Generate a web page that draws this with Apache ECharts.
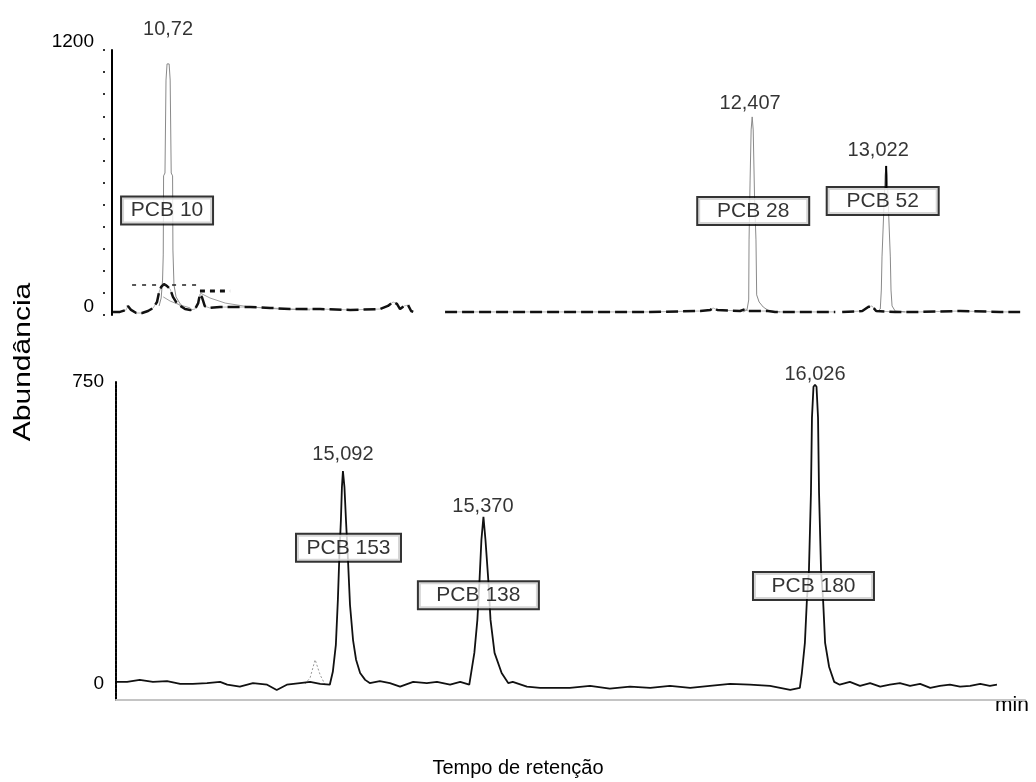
<!DOCTYPE html>
<html><head><meta charset="utf-8">
<script src="https://cdn.jsdelivr.net/npm/echarts@6/dist/echarts.min.js"></script>
<style>html,body{margin:0;padding:0;background:#fff}#c{width:1036px;height:782px}</style>
</head><body><div id="c"></div>
<script>
// ---------- DATA (x: tempo de retenção [min], y: abundância) ----------
// Top window (PCB 10, 28, 52)
const topBaseA = [[10.561,14],[10.581,14],[10.599,23],[10.604,41],[10.613,23],[10.628,9],[10.645,9],[10.662,18],[10.677,32],[10.688,59],[10.694,104],[10.700,127],[10.708,140],[10.717,131],[10.726,118],[10.734,82],[10.743,59],[10.755,41],[10.769,27],[10.784,23],[10.798,27],[10.807,54],[10.812,95],[10.818,80],[10.826,40],[10.840,32],[10.870,36],[10.905,36],[10.957,36],[11.015,32],[11.072,27],[11.159,27],[11.246,23],[11.332,27],[11.355,41],[11.370,59],[11.381,50],[11.390,27],[11.402,41],[11.413,45],[11.422,18],[11.428,14]];
const topBaseB = [[11.520,14],[11.679,14],[11.852,14],[11.968,14],[12.112,14],[12.257,18],[12.286,23],[12.294,32],[12.306,23],[12.372,18],[12.387,27],[12.395,18],[12.407,18],[12.430,18],[12.453,18],[12.473,14],[12.546,14],[12.632,14],[12.647,14]];
const topBaseC = [[12.667,14],[12.725,18],[12.742,36],[12.753,41],[12.765,18],[12.820,14],[12.892,14],[13.008,18],[13.123,14],[13.181,14]];
const peak10 = [[10.694,41],[10.700,77],[10.704,158],[10.706,272],[10.707,630],[10.711,643],[10.714,1064],[10.717,1137],[10.720,1146],[10.723,1137],[10.726,1064],[10.729,643],[10.733,630],[10.734,294],[10.737,136],[10.743,82],[10.755,50],[10.772,27]];
const peak28 = [[12.381,14],[12.392,23],[12.397,68],[12.398,340],[12.401,611],[12.404,838],[12.407,897],[12.410,838],[12.414,521],[12.418,340],[12.420,91],[12.427,59],[12.439,36],[12.456,18],[12.488,14]];
const peak52 = [[12.768,14],[12.777,27],[12.780,113],[12.782,263],[12.785,385],[12.791,634],[12.794,675],[12.797,634],[12.803,385],[12.806,263],[12.808,113],[12.811,41],[12.820,18],[12.849,14]];
const peak52Apex = [[12.794,675],[12.794,575]];
const topTailA = [[10.706,82],[10.726,63],[10.755,45],[10.784,32]];
const topTailB = [[10.812,100],[10.841,77],[10.885,54],[10.957,36],[11.044,27],[11.130,23]];
const topLevelA = [[10.616,136],[10.804,136]];
const topLevelB = [[10.812,109],[10.899,109]];
const topRtLabels = [[10.720,1295,'10,72'],[12.401,960,'12,407'],[12.771,747,'13,022']];
const topBoxes = [[10.717,473,'PCB 10'],[12.410,471,'PCB 28'],[12.784,516,'PCB 52']];
const topTicks = ['0','1200'];

// Bottom window (PCB 153, 138, 180)
const bottomTrace = [[14.645,5],[14.665,5],[14.690,10],[14.716,5],[14.744,7],[14.770,0],[14.795,0],[14.823,2],[14.849,5],[14.863,-2],[14.888,-7],[14.914,2],[14.942,-2],[14.961,-15],[14.981,-2],[15.007,2],[15.027,5],[15.047,0],[15.066,-2],
[15.072,30],[15.078,97],[15.082,209],[15.085,320],[15.088,407],[15.090,489],[15.092,529],[15.095,489],[15.098,407],[15.102,308],[15.106,196],[15.112,109],[15.118,60],[15.126,27],[15.136,10],[15.145,2],
[15.165,7],[15.185,2],[15.205,-7],[15.231,5],[15.258,2],[15.278,5],[15.304,-2],[15.324,5],[15.342,-2],
[15.352,77],[15.358,159],[15.362,251],[15.366,358],[15.370,415],[15.374,358],[15.380,251],[15.384,159],[15.392,77],[15.406,27],[15.419,2],
[15.428,5],[15.456,-7],[15.482,-10],[15.515,-10],[15.541,-10],[15.581,-5],[15.620,-12],[15.660,-7],[15.700,-10],[15.739,-5],[15.779,-10],[15.818,-5],[15.858,0],[15.897,-2],[15.937,-5],[15.977,-15],[15.996,-10],
[16.000,27],[16.006,102],[16.010,209],[16.014,281],[16.018,475],[16.020,661],[16.023,738],[16.026,743],[16.029,738],[16.032,661],[16.034,475],[16.038,281],[16.042,209],[16.046,102],[16.054,42],[16.064,5],[16.075,-2],
[16.095,5],[16.115,-5],[16.135,2],[16.155,-7],[16.174,-2],[16.194,2],[16.214,-5],[16.234,0],[16.254,-10],[16.273,-5],[16.293,-2],[16.313,-7],[16.333,-5],[16.353,0],[16.372,-5],[16.386,-2]];
const bottomSmallPeak = [[15.017,0],[15.027,15],[15.037,60],[15.047,22],[15.056,0]];
const bottomRtLabels = [[15.092,569,'15,092'],[15.369,440,'15,370'],[16.026,768,'16,026']];
const bottomBoxes = [[15.103,338,'PCB 153'],[15.360,220,'PCB 138'],[16.023,243,'PCB 180']];
const bottomTicks = ['0','750'];

// ---------- CHART ----------
const FONT = '"Liberation Sans", Arial, sans-serif';
const boxWidth = {'PCB 10':92,'PCB 28':112,'PCB 52':112,'PCB 153':105,'PCB 138':121,'PCB 180':121};

function lineS(data, xi, color, width, type, z){
  return {type:'line', xAxisIndex:xi, yAxisIndex:xi===0?0:2, data:data, showSymbol:false, symbol:'none',
    lineStyle:{color:color, width:width, type:type||'solid'}, z:z||2, silent:true, animation:false};
}
function textS(rows, xi){
  return {type:'scatter', xAxisIndex:xi, yAxisIndex:xi===0?0:2, symbolSize:0, clip:false, z:10, silent:true, animation:false,
    data: rows.map(r=>({name:r[2], value:[r[0],r[1]]})),
    label:{show:true, position:'inside', formatter:'{b}', color:'#000', fontSize:20, fontFamily:FONT}};
}
function boxS(rows, xi){
  return {type:'scatter', xAxisIndex:xi, yAxisIndex:xi===0?0:2, symbolSize:0, clip:false, z:10, silent:true, animation:false,
    data: rows.map(r=>({name:r[2], value:[r[0],r[1]], label:{width:boxWidth[r[2]]-6}})),
    label:{show:true, position:'inside', formatter:'{b}', color:'#000', fontSize:21, fontFamily:FONT,
      backgroundColor:'#fff', borderColor:'#000', borderWidth:2, padding:[3,2,1,2], lineHeight:22, align:'center'}};
}

const chart = echarts.init(document.getElementById('c'), null, {renderer:'canvas'});
chart.setOption({
  backgroundColor:'#fff',
  animation:false,
  grid:[
    {left:112, right:11, top:50, bottom:467},
    {left:116, right:11, top:382, bottom:82}
  ],
  xAxis:[
    {type:'value', gridIndex:0, min:10.558, max:13.195, show:false},
    {type:'value', gridIndex:1, min:14.643, max:16.4415,
      axisLine:{show:true, onZero:false, lineStyle:{color:'#c4c4c4', width:2}},
      axisTick:{show:false}, axisLabel:{show:false}, splitLine:{show:false}}
  ],
  yAxis:[
    {type:'value', gridIndex:0, min:0, max:1200, interval:100, position:'left',
      axisLine:{show:true, onZero:false, lineStyle:{color:'#000', width:2}},
      axisTick:{show:false}, splitLine:{show:false},
      axisLabel:{show:true, margin:18, color:'#000', fontSize:19, fontFamily:FONT, verticalAlign:'bottom', lineHeight:16,
        formatter:v=> topTicks.indexOf(String(v))>=0 ? String(v) : ''}},
    {type:'value', gridIndex:0, min:0, max:1200, interval:100, offset:7, position:'left',
      axisLine:{show:false}, splitLine:{show:false}, axisLabel:{show:false},
      axisTick:{show:true, length:2, lineStyle:{color:'#333', width:2}}},
    {type:'value', gridIndex:1, min:-40, max:750, position:'left',
      axisLine:{show:true, onZero:false, lineStyle:{color:'#000', width:2, type:[3,1]}},
      axisTick:{show:false}, splitLine:{show:false},
      axisLabel:{show:true, margin:12, color:'#000', fontSize:19, fontFamily:FONT,
        customValues:bottomTicks.map(Number)}}
  ],
  graphic:[
    {type:'text', x:23, y:362, rotation:Math.PI/2, scaleX:1.25,
      style:{text:'Abundância', font:'24px '+FONT, fill:'#000', align:'center', verticalAlign:'middle', textAlign:'center', textVerticalAlign:'middle'}},
    {type:'text', x:518, y:768,
      style:{text:'Tempo de retenção', font:'20px '+FONT, fill:'#000', align:'center', verticalAlign:'middle', textAlign:'center', textVerticalAlign:'middle'}},
    {type:'text', x:1012, y:705,
      style:{text:'min', font:'21px '+FONT, fill:'#000', align:'center', verticalAlign:'middle', textAlign:'center', textVerticalAlign:'middle'}}
  ],
  series:[
    lineS(topBaseA,0,'#b5b5b5',1),
    lineS(topBaseB,0,'#b5b5b5',1),
    lineS(topBaseC,0,'#b5b5b5',1),
    lineS(topTailA,0,'#a0a0a0',1),
    lineS(topTailB,0,'#a0a0a0',1),
    lineS(peak10,0,'#8a8a8a',1,'solid',3),
    lineS(peak28,0,'#8a8a8a',1,'solid',3),
    lineS(peak52,0,'#8a8a8a',1,'solid',3),
    lineS(peak52Apex,0,'#000',2,'solid',3),
    lineS(topBaseA,0,'#111',2.5,[12,5],4),
    lineS(topBaseB,0,'#111',2.5,[12,5],4),
    lineS(topBaseC,0,'#111',2.5,[12,5],4),
    lineS(topLevelA,0,'#222',1.5,[4,6],4),
    lineS(topLevelB,0,'#111',3,[5,5],4),
    lineS(bottomSmallPeak,1,'#999',1,[2,2],3),
    lineS(bottomTrace,1,'#111',1.8,'solid',4),
    textS(topRtLabels,0),
    boxS(topBoxes,0),
    textS(bottomRtLabels,1),
    boxS(bottomBoxes,1)
  ]
});
</script></body></html>
